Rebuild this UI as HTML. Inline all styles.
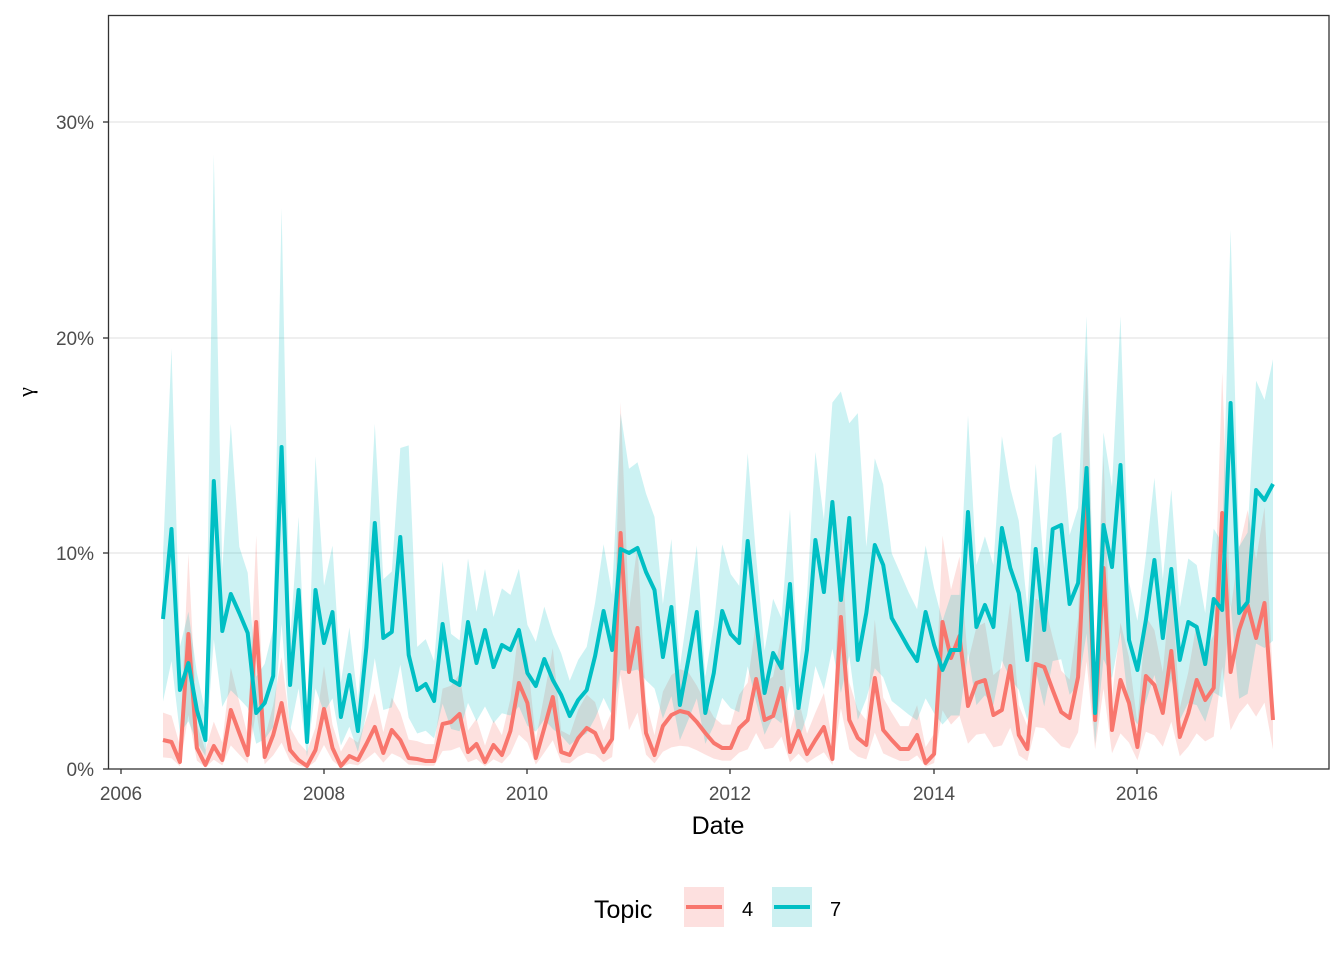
<!DOCTYPE html><html><head><meta charset="utf-8"><style>body{margin:0;background:#fff}svg{display:block;font-family:"Liberation Sans",Arial,sans-serif}</style></head><body>
<svg id="s" width="1344" height="960" viewBox="0 0 1344 960">
<rect x="0" y="0" width="1344" height="960" fill="#fff"/>
<g stroke="#e5e5e5" stroke-width="1.2"><line x1="108" x2="1329" y1="122" y2="122"/><line x1="108" x2="1329" y1="338" y2="338"/><line x1="108" x2="1329" y1="553" y2="553"/></g>
<g id="bands"></g><g id="lines"></g>
<rect x="108.5" y="15.5" width="1220.5" height="753.5" fill="none" stroke="#333" stroke-width="1.3"/>
<g stroke="#333" stroke-width="1.3"><line x1="103" x2="108" y1="122" y2="122"/><line x1="103" x2="108" y1="338" y2="338"/><line x1="103" x2="108" y1="553" y2="553"/><line x1="103" x2="108" y1="769" y2="769"/>
<line x1="121" x2="121" y1="769" y2="774"/><line x1="324" x2="324" y1="769" y2="774"/><line x1="527" x2="527" y1="769" y2="774"/><line x1="730" x2="730" y1="769" y2="774"/><line x1="934" x2="934" y1="769" y2="774"/><line x1="1137" x2="1137" y1="769" y2="774"/></g>
<g font-size="19" fill="#4d4d4d" text-anchor="end"><text x="94" y="129">30%</text><text x="94" y="345">20%</text><text x="94" y="560">10%</text><text x="94" y="776">0%</text></g>
<g font-size="19" fill="#4d4d4d" text-anchor="middle"><text x="121" y="800">2006</text><text x="324" y="800">2008</text><text x="527" y="800">2010</text><text x="730" y="800">2012</text><text x="934" y="800">2014</text><text x="1137" y="800">2016</text></g>
<text x="718" y="834" font-size="25" text-anchor="middle">Date</text>
<text x="0" y="0" font-size="22" font-family="Liberation Serif,serif" transform="translate(33,392) rotate(-90)" text-anchor="middle">γ</text>
<text x="594" y="918" font-size="25">Topic</text>
<rect x="684" y="887" width="40" height="40" fill="#fde0df"/><line x1="686" x2="722" y1="907" y2="907" stroke="#f8766d" stroke-width="4"/>
<text x="742" y="916" font-size="20">4</text>
<rect x="772" y="887" width="40" height="40" fill="#ccf0f1"/><line x1="774" x2="810" y1="907" y2="907" stroke="#00bfc4" stroke-width="4"/>
<text x="830" y="916" font-size="20">7</text>
</svg>
<script>
var T=[619,529,690,663,710,740,481,631,594,613,633,713,703,676,447,685,590,742,590,643,612,717,675,731,647,523,638,632,537,655,690,684,701,624,680,685,622,663,630,667,645,650,630,673,686,659,680,695,716,700,690,656,611,650,549,553,548,572,590,657,607,705,660,612,713,673,611,634,643,541,620,693,653,668,584,708,650,540,592,502,600,518,660,613,545,565,618,633,648,661,612,645,670,650,650,512,627,605,627,528,568,593,660,549,630,529,525,604,583,468,713,525,567,465,640,670,620,560,638,569,660,622,627,664,599,610,403,613,602,490,500,484];
var R=[740,742,762,634,748,765,746,760,710,733,755,622,757,735,703,750,760,766,750,709,748,766,756,760,744,727,753,730,740,758,759,761,761,724,722,714,752,744,762,745,755,731,683,703,758,728,697,752,755,738,728,733,752,739,533,672,628,733,755,726,715,711,713,722,733,743,748,748,728,720,679,720,716,688,752,731,754,740,727,759,617,720,738,745,678,730,740,749,749,735,763,754,622,658,636,706,683,680,715,710,666,735,749,664,667,690,712,718,677,500,720,568,730,680,703,747,676,685,713,651,737,713,680,700,688,513,672,630,605,638,603,720];
var Z=769,S=21.57,n=T.length,x0=163,x1=1273;
function X(i){return x0+(x1-x0)*i/(n-1)}
function g(y){return (Z-y)/S}
function Y(v){return Z-v*S}
var spikes={1:19.5,6:28.5,14:26,8:16,18:14.5,25:16,29:15,80:17.5,82:16.5,109:21,113:21,126:25,129:18,131:19,54:16.5};
function band(A,up,lo,sp){var top=[],bot=[];for(var i=0;i<n;i++){var v=g(A[i]);var u=v*up[0]+up[1];if(sp&&sp[i])u=sp[i];var l=Math.max(0,v*lo);top.push(X(i).toFixed(1)+","+Y(u).toFixed(1));bot.unshift(X(i).toFixed(1)+","+Y(l).toFixed(1));}return "M"+top.join("L")+"L"+bot.join("L")+"Z";}
function line(A){var p=[];for(var i=0;i<n;i++)p.push(X(i).toFixed(1)+","+A[i]);return "M"+p.join("L");}
var ns="http://www.w3.org/2000/svg";
function mk(par,d,attrs){var e=document.createElementNS(ns,"path");e.setAttribute("d",d);for(var k in attrs)e.setAttribute(k,attrs[k]);document.getElementById(par).appendChild(e);}
mk("bands",band(R,[1.5,0.6],0.4,null),{fill:"#f8766d","fill-opacity":"0.22"});
mk("bands",band(T,[1.3,0.9],0.45,spikes),{fill:"#00bfc4","fill-opacity":"0.2"});
mk("lines",line(R),{fill:"none",stroke:"#f8766d","stroke-width":"4","stroke-linejoin":"round"});
mk("lines",line(T),{fill:"none",stroke:"#00bfc4","stroke-width":"4","stroke-linejoin":"round"});
</script>
</body></html>
